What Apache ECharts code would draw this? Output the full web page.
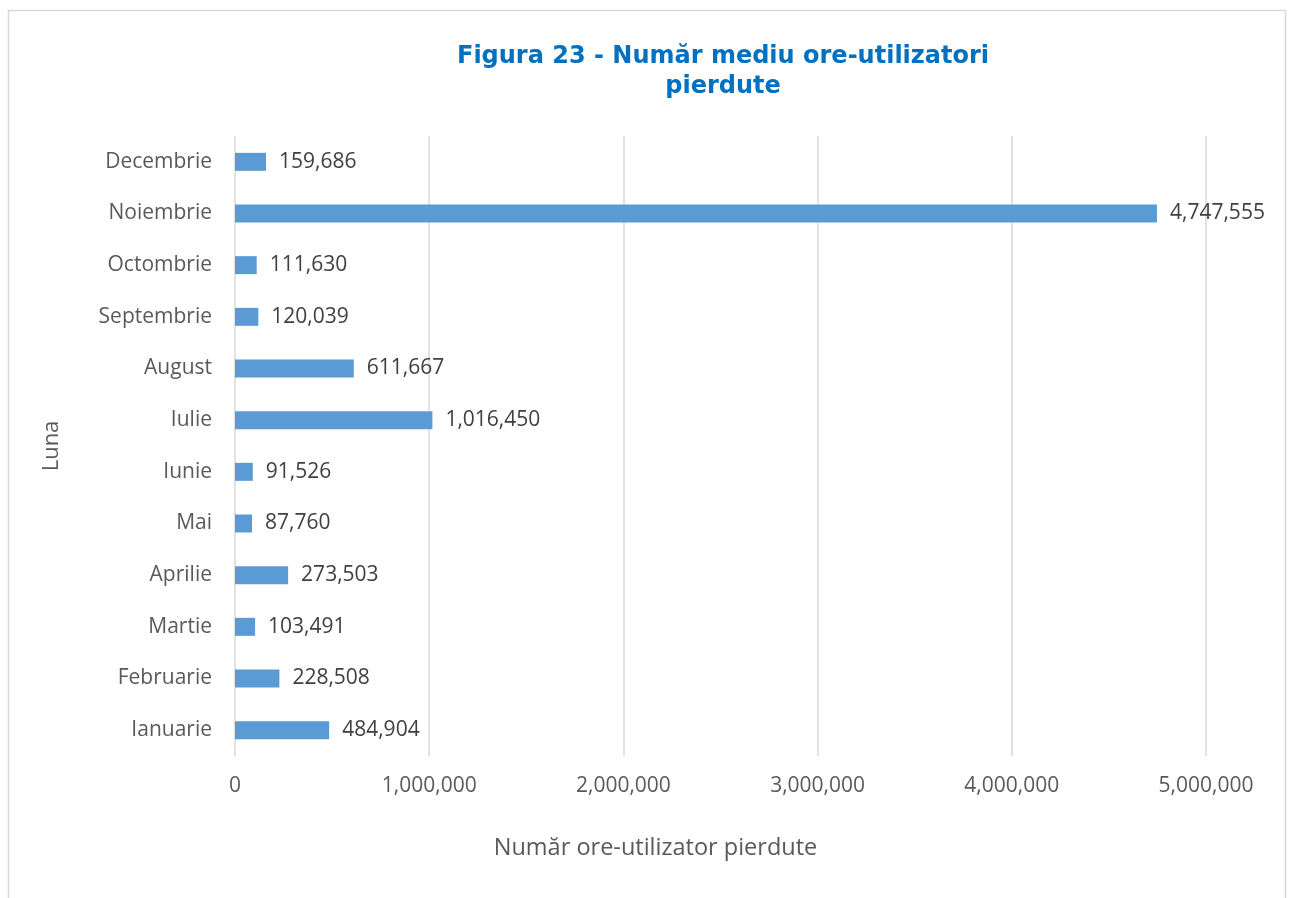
<!DOCTYPE html>
<html>
<head>
<meta charset="utf-8">
<script src="https://cdn.jsdelivr.net/npm/echarts@6/dist/echarts.min.js"></script>
<style>
  html, body { margin: 0; padding: 0; background: #fff; }
  #chart { width: 1289px; height: 898px; }
</style>
</head>
<body>
<div id="chart"></div>
<script>
// Months, bottom to top on the category axis
const months = ['Ianuarie', 'Februarie', 'Martie', 'Aprilie', 'Mai', 'Iunie',
  'Iulie', 'August', 'Septembrie', 'Octombrie', 'Noiembrie', 'Decembrie'];
// Average lost user-hours per month
const lostHours = [484904, 228508, 103491, 273503, 87760, 91526,
  1016450, 611667, 120039, 111630, 4747555, 159686];
const xTicks = [0, 1000000, 2000000, 3000000, 4000000, 5000000];

const fmt = v => Number(v).toLocaleString('en-US');
const labelFont = '"Open Sans", "Noto Sans", sans-serif';

const chart = echarts.init(document.getElementById('chart'), null, { renderer: 'canvas' });
chart.setOption({
  backgroundColor: '#ffffff',
  animation: false,
  title: {
    text: 'Figura 23 - Număr mediu ore-utilizatori\npierdute',
    left: 718,
    top: 37,
    textAlign: 'center',
    textStyle: {
      color: '#0070C0',
      fontFamily: '"DejaVu Sans", Verdana, sans-serif',
      fontWeight: 'bold',
      fontSize: 24,
      lineHeight: 30
    }
  },
  graphic: [{
    type: 'rect',
    shape: { x: 8.5, y: 10.5, width: 1277, height: 900 },
    style: { fill: 'none', stroke: '#D9D9D9', lineWidth: 1.5 },
    silent: true
  }],
  grid: { left: 235, right: 83, top: 136, bottom: 142, containLabel: false },
  xAxis: {
    type: 'value',
    min: xTicks[0],
    max: xTicks[xTicks.length - 1],
    interval: xTicks[1] - xTicks[0],
    name: 'Număr ore-utilizator pierdute',
    nameLocation: 'middle',
    nameGap: 80,
    nameTextStyle: {
      color: '#595959', fontSize: 23.5, fontFamily: labelFont,
      padding: [0, 130, 0, 0]
    },
    axisLine: { show: false },
    axisTick: { show: false },
    axisLabel: {
      color: '#595959', fontSize: 21, fontFamily: labelFont, margin: 20,
      formatter: v => fmt(v)
    },
    splitLine: { show: true, lineStyle: { color: '#D9D9D9', width: 1.5 } }
  },
  yAxis: {
    type: 'category',
    data: months,
    name: 'Luna',
    nameLocation: 'middle',
    nameGap: 172,
    nameRotate: 90,
    nameTextStyle: { color: '#595959', fontSize: 22, fontFamily: labelFont },
    axisLine: { show: false },
    axisTick: { show: false },
    axisLabel: { color: '#595959', fontSize: 21, fontFamily: labelFont, margin: 23 },
    splitLine: { show: false }
  },
  series: [{
    type: 'bar',
    data: lostHours,
    barWidth: 18,
    itemStyle: { color: '#5B9BD5' },
    label: {
      show: true,
      position: 'right',
      distance: 13,
      color: '#404040',
      fontSize: 21,
      fontFamily: labelFont,
      formatter: p => fmt(p.value)
    }
  }]
});
</script>
</body>
</html>
